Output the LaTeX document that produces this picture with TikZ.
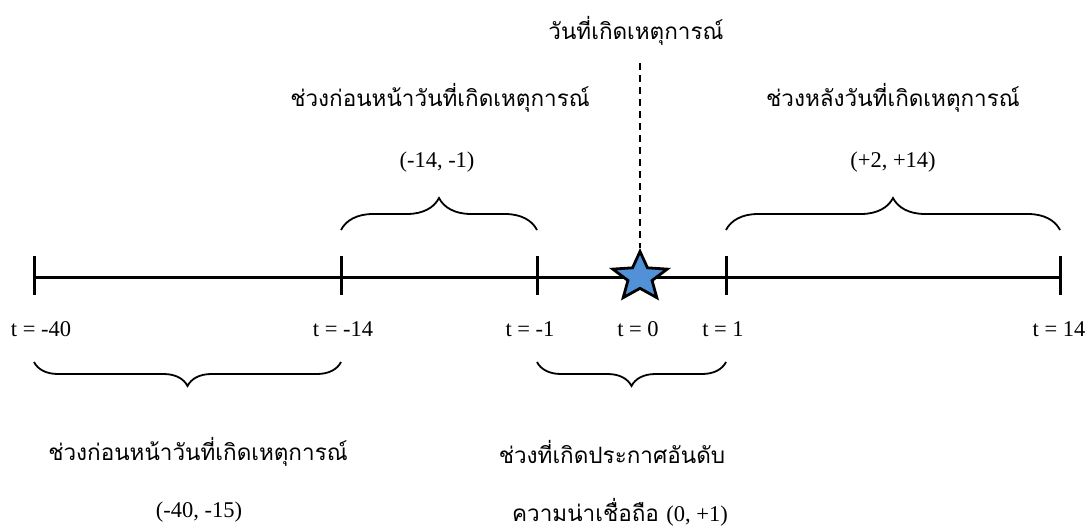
\documentclass[tikz,border=0pt]{standalone}
\usepackage{fontspec}
\setmainfont{Liberation Serif}
\newfontfamily\thaifont[Script=Thai]{Loma}
\usetikzlibrary{shapes.geometric,decorations.pathreplacing}
\begin{document}
\begin{tikzpicture}[x=1pt,y=-1pt,
  axisline/.style={line width=3pt},
  tickmark/.style={line width=3pt},
  bracestyle/.style={decorate,decoration={brace,amplitude=#1},line width=1.8pt},
  lbl/.style={font=\fontsize{22.5}{26}\selectfont, inner sep=0pt},
  thai/.style={font=\thaifont\fontsize{22.5}{26}\selectfont, inner sep=0pt},
  evstar/.style={star,star points=5,star point ratio=2.25,minimum size=51pt,inner sep=0pt,
    xscale=1.12,transform shape,
    fill={rgb,255:red,80;green,145;blue,215},draw=black,line width=2.8pt},
  dashline/.style={dashed,dash pattern=on 7pt off 5pt,line width=1.8pt}]
\useasboundingbox (0,0) rectangle (1091,529);
% axis
\coordinate (a) at (34,277);
\coordinate (b) at (341,277);
\coordinate (c) at (537,277);
\coordinate (e) at (726,277);
\coordinate (f) at (1060,277);
\draw[axisline] (a) -- (f);
\foreach \p in {a,b,c,e,f}{
  \draw[tickmark] ([yshift=21pt]\p) -- ([yshift=-18pt]\p);
}
% star and dashed line
\node[evstar] (star) at (640,277) {};
\node[thai] (top) at (636,31) {วันที่เกิดเหตุการณ์};
\coordinate (dtop) at (640,63);
\draw[dashline] (dtop) -- (star.north);
% tick labels
\node[lbl] (l1) at (41,329) {t = -40};
\node[lbl] (l2) at (343,329) {t = -14};
\node[lbl] (l3) at (530,329) {t = -1};
\node[lbl] (l4) at (638,329) {t = 0};
\node[lbl] (l5) at (723,329) {t = 1};
\node[lbl] (l6) at (1059,329) {t = 14};
% upper braces
\coordinate (ub1) at (341,230);
\coordinate (ub2) at (537,230);
\coordinate (ub3) at (726,230);
\coordinate (ub4) at (1060,230);
\draw[bracestyle=32pt] (ub1) -- (ub2);
\draw[bracestyle=32pt] (ub3) -- (ub4);
\node[thai] (t1) at (440,98) {ช่วงก่อนหน้าวันที่เกิดเหตุการณ์};
\node[lbl] (t1b) at (437,162) {(-14, -1)};
\node[thai] (t2) at (893,98) {ช่วงหลังวันที่เกิดเหตุการณ์};
\node[lbl] (t2b) at (893,162) {(+2, +14)};
% lower braces
\coordinate (lb1) at (34,362);
\coordinate (lb2) at (341,362);
\coordinate (lb3) at (537,362);
\coordinate (lb4) at (726,362);
\draw[bracestyle=24pt] (lb2) -- (lb1);
\draw[bracestyle=24pt] (lb4) -- (lb3);
\node[thai] (b1) at (198,452) {ช่วงก่อนหน้าวันที่เกิดเหตุการณ์};
\node[lbl] (b1b) at (199,512) {(-40, -15)};
\node[thai] (b2) at (612,452) {ช่วงที่เกิดประกาศอันดับ};
\node[thai] (b2b) at (620,512) {ความน่าเชื่อถือ {\fontspec{Liberation Serif}(0, +1)}};
\end{tikzpicture}
\end{document}
